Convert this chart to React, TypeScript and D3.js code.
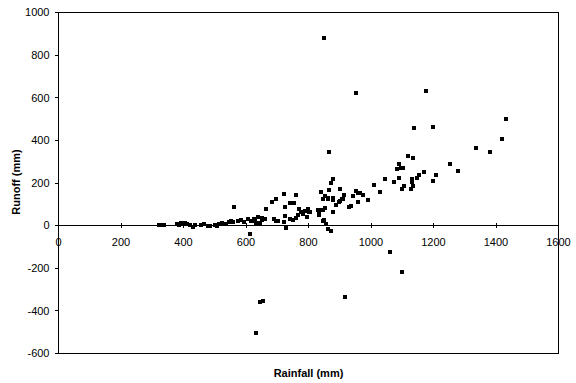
import React from "react";
import * as d3 from "d3";

const xTicks = [0, 200, 400, 600, 800, 1000, 1200, 1400, 1600];
const yTicks = [-600, -400, -200, 0, 200, 400, 600, 800, 1000];

const rainfall = [
  322, 330, 338, 378, 385, 392, 398, 405, 412, 420, 430, 438, 455, 465, 478, 485, 500, 508, 515, 522,
  535, 545, 552, 558, 560, 575, 585, 595, 605, 612, 615, 619, 624, 628, 632, 640, 645, 650, 639, 651,
  660, 664, 682, 696, 689, 696, 703, 722, 724, 724, 721, 728, 740, 742, 751, 752, 759, 760, 765, 768,
  777, 783, 790, 794, 794, 797, 802, 806, 830, 832, 835, 838, 841, 845, 845, 847, 848, 849, 852, 853,
  855, 857, 861, 862, 863, 867, 867, 872, 873, 877, 879, 879, 879, 887, 897, 900, 902, 908, 909, 914,
  918, 931, 937, 941, 953, 953, 957, 960, 966, 973, 989, 1008, 1029, 1046, 1060, 1075, 1084, 1091, 1091, 1095,
  1098, 1098, 1103, 1107, 1119, 1129, 1130, 1132, 1133, 1135, 1136, 1148, 1155, 1171, 1175, 1197, 1199, 1207, 1252, 1277,
  1335, 1380, 1418, 1431, 633, 646, 655
];
const runoff = [
  2, 2, 3, 8, 5, 12, 10, 14, 7, 4, -5, 2, 3, 6, -3, 0, 5, -4, 6, 12,
  8, 15, 22, 18, 88, 22, 25, 18, 30, -38, 21, 21, 32, 20, 13, 13, 10, 25, 41, 38,
  31, 77, 109, 123, 31, 24, 20, 149, 87, 43, 18, -10, 31, 104, 27, 104, 38, 145, 49, 76,
  63, 53, 67, 68, 41, 76, 62, 65, 73, 49, 54, 73, 159, 126, 73, 21, 882, 27, 138, 81,
  8, 6, 129, -18, 123, 167, 346, 201, -24, 65, 218, 129, 120, 95, 109, 115, 171, 126, 124, 143,
  -337, 88, 92, 138, 162, 623, 112, 154, 151, 145, 120, 192, 159, 220, -123, 206, 264, 287, 224, 271,
  171, -217, 271, 187, 328, 171, 204, 220, 315, 187, 459, 224, 238, 251, 633, 464, 210, 238, 290, 257,
  365, 346, 408, 500, -503, -358, -354
];

const W = 576;
const H = 383;
const left = 58.5;
const right = 558.5;
const top = 12.5;
const bottom = 353.5;

export default function App() {
  const x = d3.scaleLinear().domain([0, 1600]).range([left, right]);
  const y = d3.scaleLinear().domain([-600, 1000]).range([bottom, top]);
  const font = "'Liberation Sans', Arial, sans-serif";
  const y0 = Math.round(y(0) - 0.5) + 0.5;
  return (
    <svg
      width={W}
      height={H}
      style={{ position: "absolute", left: 0, top: 0, background: "#fff" }}
      fontFamily={font}
    >
      <rect x={0} y={0} width={W} height={H} fill="#fff" />
      <rect x={left} y={top} width={right - left} height={bottom - top} fill="none" stroke="#000" strokeWidth={1} />
      <line x1={left} x2={right} y1={y0} y2={y0} stroke="#000" />
      {yTicks.map((t) => {
        const yy = Math.round(y(t) - 0.5) + 0.5;
        return (
          <g key={"y" + t}>
            <line x1={left - 3.5} x2={left} y1={yy} y2={yy} stroke="#000" />
            <text x={49.5} y={y(t)} dy="0.35em" textAnchor="end" fontSize={11}>
              {t}
            </text>
          </g>
        );
      })}
      {xTicks.map((t) => {
        const xx = Math.round(x(t) - 0.5) + 0.5;
        return (
          <g key={"x" + t}>
            {t > 0 && t < 1600 && <line x1={xx} x2={xx} y1={y0 - 2.5} y2={y0 + 2.5} stroke="#000" />}
            <text x={x(t)} y={245.5} textAnchor="middle" fontSize={11}>
              {t}
            </text>
          </g>
        );
      })}
      {rainfall.map((r, i) => (
        <rect key={i} x={Math.round(x(r)) - 2} y={Math.round(y(runoff[i])) - 2} width={4} height={4} fill="#000" />
      ))}
      <text x={308.5} y={376.5} textAnchor="middle" fontSize={11} fontWeight="bold">
        Rainfall (mm)
      </text>
      <text
        transform={`translate(20,182) rotate(-90)`}
        textAnchor="middle"
        fontSize={11}
        fontWeight="bold"
      >
        Runoff (mm)
      </text>
    </svg>
  );
}
